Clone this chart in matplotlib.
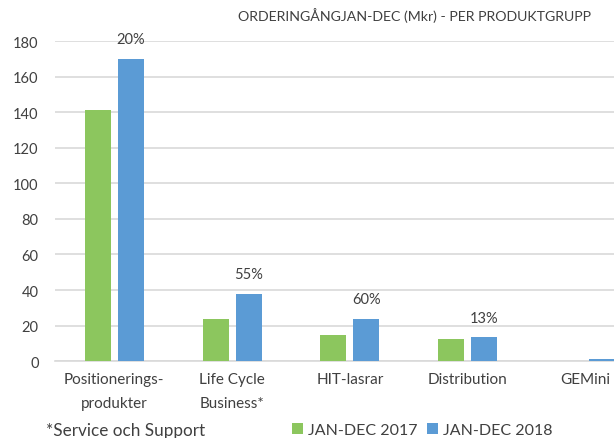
import matplotlib.pyplot as plt
import numpy as np

categories = ["Positionerings-\nprodukter", "Life Cycle\nBusiness*", "HIT-lasrar", "Distribution", "GEMini"]
values_2017 = [141, 24, 15, 12.5, 0]
values_2018 = [170, 38, 24, 13.5, 1.5]
growth_labels = ["20%", "55%", "60%", "13%", ""]
series_names = ["JAN-DEC 2017", "JAN-DEC 2018"]

plt.rcParams['font.family'] = ['Lato', 'DejaVu Sans']
txt = "#404040"

fig = plt.figure(figsize=(6.14, 4.39), dpi=100)
ax = fig.add_axes([0.09, 0.175, 0.91, 0.729])

x = np.arange(len(categories))
w = 0.22
b1 = ax.bar(x - 0.14, values_2017, w, color="#8CC65E", label=series_names[0], zorder=3)
b2 = ax.bar(x + 0.14, values_2018, w, color="#5B9BD5", label=series_names[1], zorder=3)

for xi, v, lab in zip(x, values_2018, growth_labels):
    if lab:
        ax.annotate(lab, (xi + 0.14, v), xytext=(0, 14), textcoords="offset points",
                    ha="center", va="center", fontsize=10.5, color=txt)

ax.set_ylim(0, 180)
ax.set_xlim(-0.5, 4.24)
ax.set_yticks(range(0, 181, 20))
ax.set_xticks(x)
ax.set_xticklabels(categories, fontsize=11, color=txt, linespacing=1.9)
ax.tick_params(axis="y", length=0, pad=12, labelsize=10.5, labelcolor=txt)
ax.tick_params(axis="x", length=0, pad=8)
ax.yaxis.grid(True, color="#D9D9D9", linewidth=1.2, zorder=0)
for s in ["top", "right", "left"]:
    ax.spines[s].set_visible(False)
ax.spines["bottom"].set_color("#D9D9D9")
ax.spines["bottom"].set_linewidth(1.2)

fig.text(0.962, 0.965, "ORDERINGÅNGJAN-DEC (Mkr) - PER PRODUKTGRUPP",
         ha="right", va="center", fontsize=10.2, color=txt)
fig.text(0.075, 0.018, "*Service och Support", ha="left", va="center", fontsize=12.3, color=txt)

fig.legend(handles=[b1, b2], loc="center left", bbox_to_anchor=(0.462, 0.018),
           ncol=2, frameon=False, fontsize=11.5, handlelength=0.7, handleheight=0.7,
           handletextpad=0.3, columnspacing=0.6, labelcolor=txt, borderpad=0)

fig.savefig("out.png", dpi=100)
